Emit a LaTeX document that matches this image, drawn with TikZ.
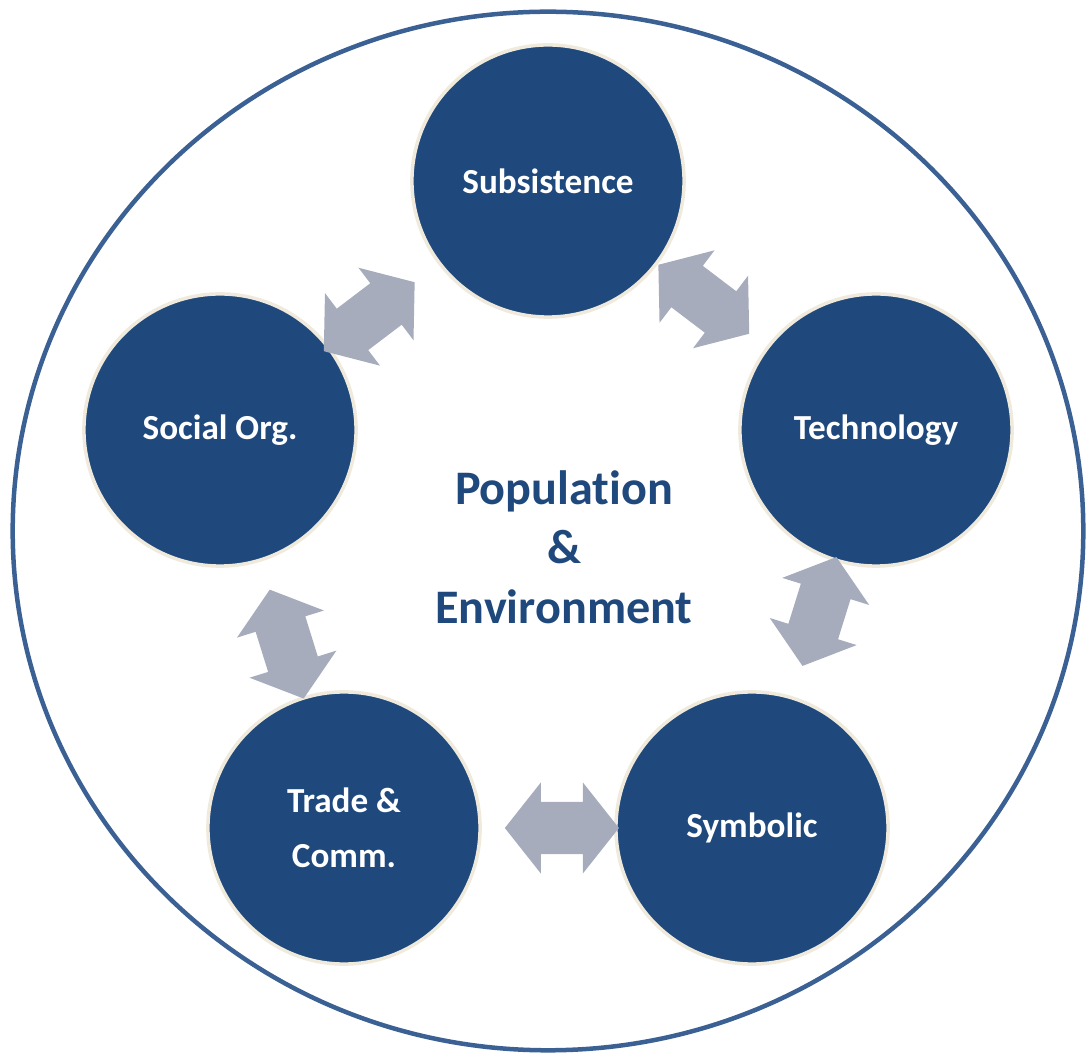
\documentclass[tikz,border=0pt]{standalone}
\usepackage{fontspec}
\setmainfont{Carlito}[RawFeature={-liga;-clig;-dlig;-calt}]
\usetikzlibrary{calc}

\definecolor{discblue}{HTML}{1F497D}
\definecolor{discrim}{HTML}{EFEADB}
\definecolor{linkgrey}{HTML}{A7ACBD}
\definecolor{framering}{HTML}{3B6094}

% Two-headed block arrow between two named nodes, centred at fraction #3 of the way
\newcommand{\linkarrow}[3]{%
  \fill[linkgrey] let \p1=($(#2)-(#1)$), \n1={atan2(\y1,\x1)}, \p0=($(#1)!#3!(#2)$) in
    ($(\p0)+(\n1:0.57cm)$)
 -- ($(\p0)+(\n1:0.21cm)+({\n1+90}:0.455cm)$)
 -- ($(\p0)+(\n1:0.21cm)+({\n1+90}:0.26cm)$)
 -- ($(\p0)+({\n1+180}:0.21cm)+({\n1+90}:0.26cm)$)
 -- ($(\p0)+({\n1+180}:0.21cm)+({\n1+90}:0.455cm)$)
 -- ($(\p0)+({\n1+180}:0.57cm)$)
 -- ($(\p0)+({\n1+180}:0.21cm)+({\n1-90}:0.455cm)$)
 -- ($(\p0)+({\n1+180}:0.21cm)+({\n1-90}:0.26cm)$)
 -- ($(\p0)+(\n1:0.21cm)+({\n1-90}:0.26cm)$)
 -- ($(\p0)+(\n1:0.21cm)+({\n1-90}:0.455cm)$)
 -- cycle;}

\begin{document}
\begin{tikzpicture}[x=0.01cm,y=-0.01cm,
  topic/.style={circle, fill=discblue, draw=discrim, line width=0.035cm,
    minimum size=2.72cm, inner sep=0pt, outer sep=0pt, text=white, align=center,
    font=\fontsize{10}{15.6}\selectfont\bfseries},
  core/.style={text=discblue, align=center, inner sep=0pt,
    font=\fontsize{13.7}{16.9}\selectfont\bfseries},
  frame/.style={draw=framering, line width=0.045cm}]

  \useasboundingbox (0,0) rectangle (1087,1055);

  % enclosing ring
  \draw[frame] (548,531) ellipse [x radius=5.35cm, y radius=5.19cm];

  % the five topics
  \node[topic] (subs) at (548,181) {Subsistence};
  \node[topic] (tech) at (876,430) {Technology};
  \node[topic] (symb) at (752,828) {Symbolic};
  \node[topic] (trade) at (344,828) {Trade \&\\Comm.};
  \node[topic] (soc) at (220,430) {Social Org.};

  % centre label
  \node[core] (popenv) at (564,547) {Population\\\&\\Environment};

  % links between neighbouring topics
  \linkarrow{soc}{subs}{0.455}
  \linkarrow{subs}{tech}{0.475}
  \linkarrow{tech}{symb}{0.456}
  \linkarrow{trade}{symb}{0.534}
  \linkarrow{soc}{trade}{0.538}
\end{tikzpicture}
\end{document}
